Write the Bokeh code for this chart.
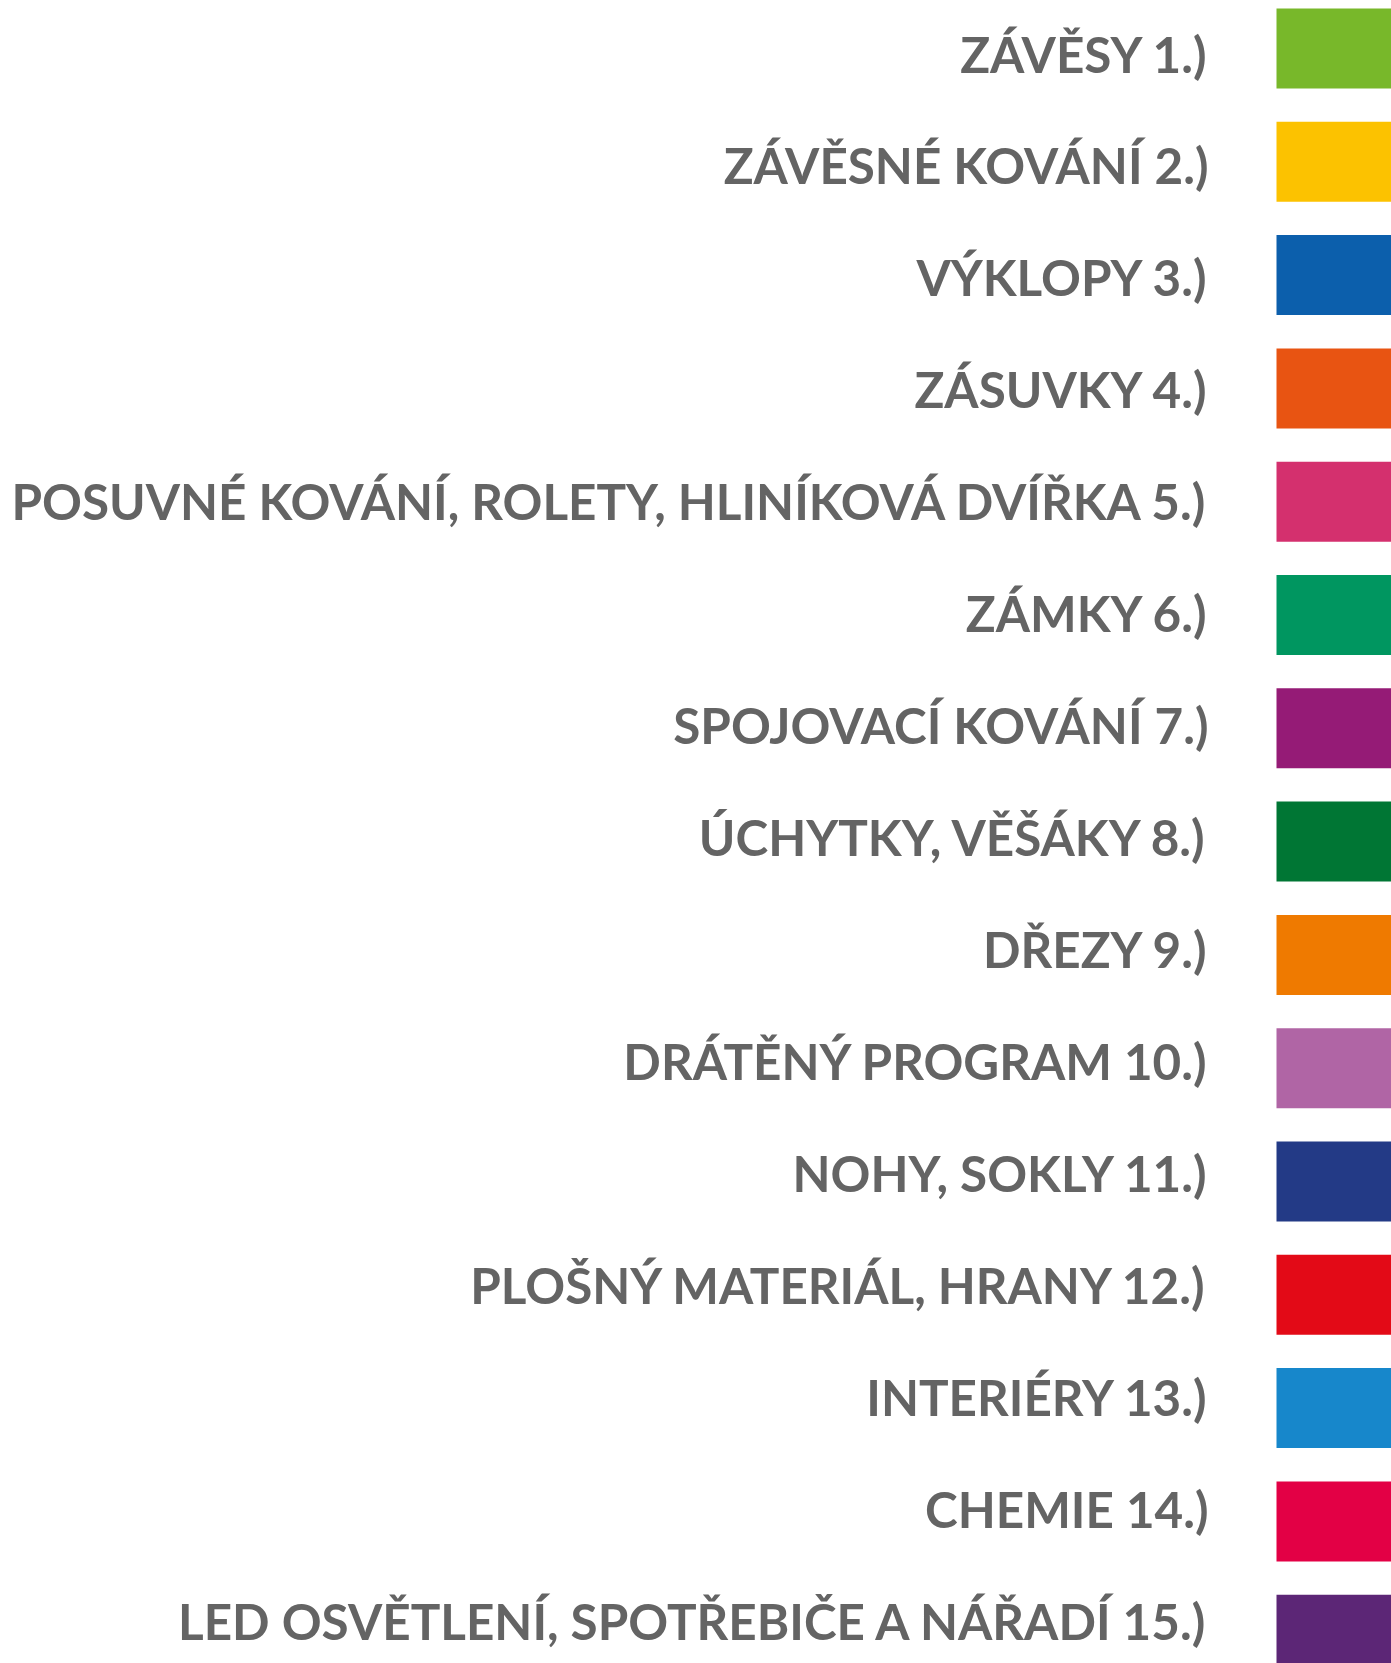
from bokeh.plotting import figure
from bokeh.models import Range1d, ColumnDataSource
from bokeh.core.properties import value
from bokeh.embed import file_html
from bokeh.resources import INLINE

labels = [
    "ZÁVĚSY 1.)",
    "ZÁVĚSNÉ KOVÁNÍ 2.)",
    "VÝKLOPY 3.)",
    "ZÁSUVKY 4.)",
    "POSUVNÉ KOVÁNÍ, ROLETY, HLINÍKOVÁ DVÍŘKA 5.)",
    "ZÁMKY 6.)",
    "SPOJOVACÍ KOVÁNÍ 7.)",
    "ÚCHYTKY, VĚŠÁKY 8.)",
    "DŘEZY 9.)",
    "DRÁTĚNÝ PROGRAM 10.)",
    "NOHY, SOKLY 11.)",
    "PLOŠNÝ MATERIÁL, HRANY 12.)",
    "INTERIÉRY 13.)",
    "CHEMIE 14.)",
    "LED OSVĚTLENÍ, SPOTŘEBIČE A NÁŘADÍ 15.)",
]
colors = [
    "#78B82A", "#FCC200", "#0C5FAC", "#E85412", "#D4306E",
    "#009660", "#951B76", "#007634", "#EF7A00", "#B065A5",
    "#233A86", "#E30A17", "#1787CB", "#E30045", "#5C2676",
]
rows = list(range(len(labels)))

W, H = 1391, 1663

# swatch scale (row index -> pixel rows)
sw_step, sw_first = 113.3, 48.0
sw_end = -sw_first / sw_step
sw_start = sw_end + H / sw_step

# label scale (row index -> text anchor)
tx_step, tx_first = 111.93, 53.0
tx_end = -tx_first / tx_step
tx_start = tx_end + H / tx_step

p = figure(width=W, height=H, output_backend="svg", toolbar_location=None,
           x_range=Range1d(0, W), y_range=Range1d(sw_start, sw_end),
           min_border=0, outline_line_color=None)
p.extra_y_ranges = {"txt": Range1d(tx_start, tx_end)}
p.axis.visible = False
p.grid.visible = False
p.background_fill_color = "white"
p.border_fill_color = "white"

src = ColumnDataSource(dict(y=rows, label=labels, color=colors,
                            top=[r - 0.353 for r in rows],
                            bottom=[r + 0.353 for r in rows]))

p.quad(left=1276, right=1420, top="top", bottom="bottom", fill_color="color",
       line_color=None, source=src)

p.text(x=1208, y="y", text="label", source=src, y_range_name="txt",
       text_align="right", text_baseline="alphabetic",
       text_font=value("Lato"), text_font_style="bold",
       text_font_size="49.4px", text_color="#646464")

open("out.html", "w").write(file_html(p, INLINE))
